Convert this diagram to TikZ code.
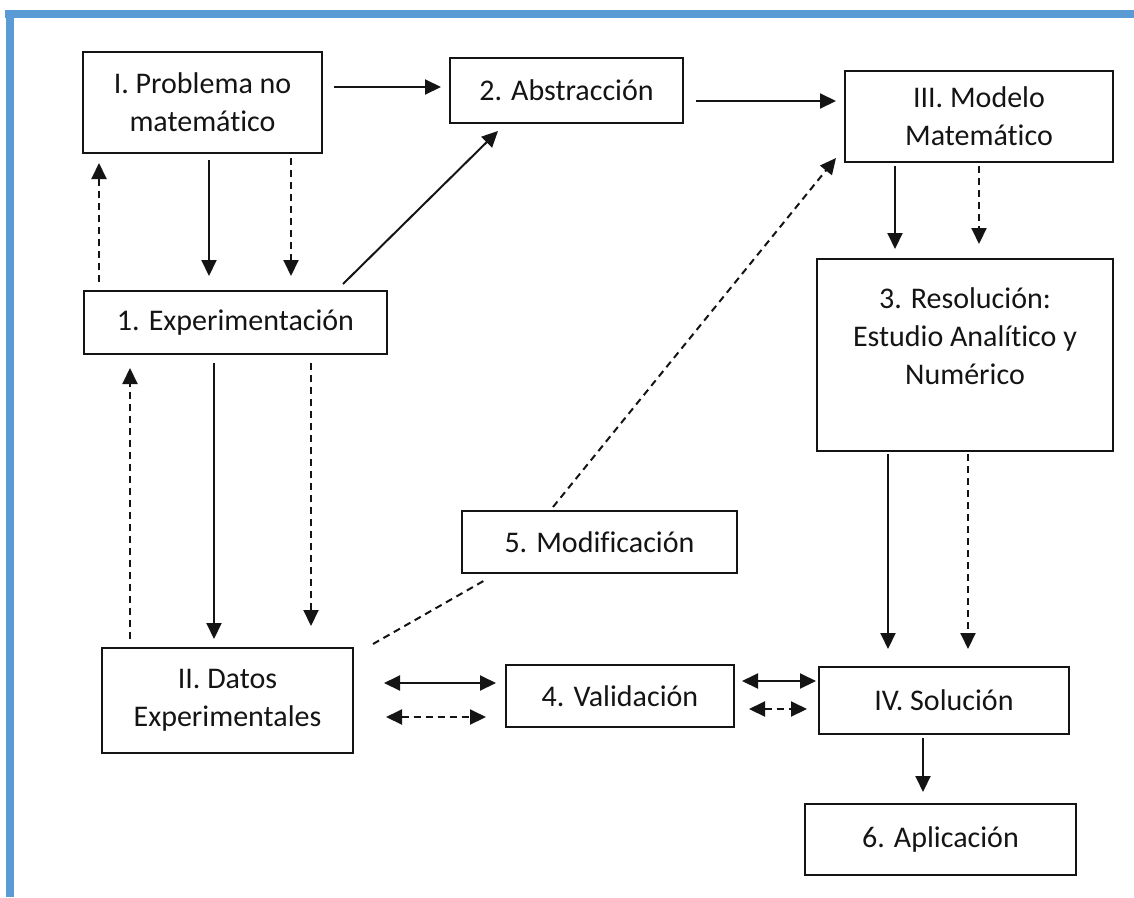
\documentclass[tikz,border=0pt]{standalone}
\usepackage{fontspec}
\setmainfont{Carlito}[Ligatures=NoCommon]
\usepackage{tikz}
\usetikzlibrary{arrows.meta,positioning,calc}
\definecolor{framblue}{RGB}{91,155,213}
\definecolor{inkgray}{RGB}{20,20,20}

\begin{document}
\begin{tikzpicture}[
    x=1pt, y=-1pt,
    every node/.style={font=\fontsize{30}{38}\selectfont, text=inkgray},
    box/.style={draw=inkgray, line width=2pt, rectangle, align=center, inner sep=0pt},
    arr/.style={draw=inkgray, line width=2pt, -{Triangle[length=16pt,width=15pt]}},
    darr/.style={arr, dash pattern=on 7pt off 5pt},
    dline/.style={draw=inkgray, line width=2pt, dash pattern=on 7pt off 5pt},
    barr/.style={arr, {Triangle[length=16pt,width=15pt]}-{Triangle[length=16pt,width=15pt]}},
    dbarr/.style={barr, dash pattern=on 7pt off 5pt},
]
    \useasboundingbox (0,0) rectangle (1134,897);
    \fill[framblue] (5,10) rectangle (1134,18);
    \fill[framblue] (6,10) rectangle (14,897);

    \node[box, minimum width=239pt, minimum height=101pt] (prob) at (202.5,102.5) {I. Problema no\\matemático};
    \node[box, minimum width=233pt, minimum height=65pt] (abst) at (566.5,90.5) {2. Abstracción};
    \node[box, minimum width=268pt, minimum height=91pt] (mode) at (979,116.5) {III. Modelo\\Matemático};
    \node[box, minimum width=296pt, minimum height=192pt] (reso) at (965,355) {3. Resolución:\\Estudio Analítico y\\Numérico\\~};
    \node[box, minimum width=303pt, minimum height=63pt] (expe) at (235.5,322.5) {1. Experimentación};
    \node[box, minimum width=275pt, minimum height=62pt] (modi) at (599.5,542) {5. Modificación};
    \node[box, minimum width=251pt, minimum height=105pt] (dato) at (227.5,700.5) {II. Datos\\Experimentales};
    \node[box, minimum width=228pt, minimum height=62pt] (vali) at (620,696) {4. Validación};
    \node[box, minimum width=250pt, minimum height=67pt] (solu) at (944,700.5) {IV. Solución};
    \node[box, minimum width=271pt, minimum height=71pt] (apli) at (940.5,839.5) {6. Aplicación};

    \draw[arr, shorten <=11pt, shorten >=8pt] ([yshift=15.5pt]prob.east) -- ([yshift=15.5pt]prob.east -| abst.west);
    \draw[arr, shorten <=12pt, shorten >=8pt] ([yshift=-10.5pt]abst.east) -- ([yshift=-10.5pt]abst.east -| mode.west);
    \draw[arr] ([xshift=107.5pt,yshift=6pt]expe.north) -- ([xshift=-68.5pt,yshift=-7pt]abst.south);

    \draw[dline] ([xshift=19pt,yshift=3pt]dato.north east) -- ([xshift=26pt,yshift=-5pt]modi.south west);
    \draw[darr] ([xshift=-46.5pt,yshift=3pt]modi.north) -- ([xshift=-8pt,yshift=5pt]mode.south west);

    \draw[arr, shorten <=6pt, shorten >=14pt] ([xshift=6.5pt]prob.south) -- ([xshift=6.5pt]prob.south |- expe.north);
    \draw[darr, shorten <=4pt, shorten >=14pt] ([xshift=88.5pt]prob.south) -- ([xshift=88.5pt]prob.south |- expe.north);
    \draw[darr, shorten <=8pt, shorten >=9pt] ([xshift=-136.5pt]expe.north) -- ([xshift=-136.5pt]expe.north |- prob.south);

    \draw[arr, shorten <=8pt, shorten >=8pt] ([xshift=-21.5pt]expe.south) -- ([xshift=-21.5pt]expe.south |- dato.north);
    \draw[darr, shorten <=8pt, shorten >=21pt] ([xshift=75.5pt]expe.south) -- ([xshift=75.5pt]expe.south |- dato.north);
    \draw[darr, shorten <=8pt, shorten >=13pt] ([xshift=-97.5pt]dato.north) -- ([xshift=-97.5pt]dato.north |- expe.south);

    \draw[arr, shorten <=3pt, shorten >=9pt] ([xshift=-84pt]mode.south) -- ([xshift=-84pt]mode.south |- reso.north);
    \draw[darr, shorten <=3pt, shorten >=14pt] (mode.south) -- (mode.south |- reso.north);

    \draw[arr, shorten <=2pt, shorten >=17pt] ([xshift=-77pt]reso.south) -- ([xshift=-77pt]reso.south |- solu.north);
    \draw[darr, shorten <=2pt, shorten >=17pt] ([xshift=3pt]reso.south) -- ([xshift=3pt]reso.south |- solu.north);

    \draw[arr, shorten <=3pt, shorten >=11pt] ([xshift=-21pt]solu.south) -- ([xshift=-21pt]solu.south |- apli.north);

    \draw[barr, shorten <=30pt, shorten >=9pt] ([yshift=17.5pt]dato.east) -- ([yshift=17.5pt]dato.east -| vali.west);
    \draw[dbarr, shorten <=32pt, shorten >=19pt] ([yshift=-16.5pt]dato.east) -- ([yshift=-16.5pt]dato.east -| vali.west);
    \draw[barr, shorten <=7pt, shorten >=2pt] ([yshift=15pt]vali.east) -- ([yshift=15pt]vali.east -| solu.west);
    \draw[dbarr, shorten <=14pt, shorten >=11pt] ([yshift=-13pt]vali.east) -- ([yshift=-13pt]vali.east -| solu.west);
\end{tikzpicture}
\end{document}
